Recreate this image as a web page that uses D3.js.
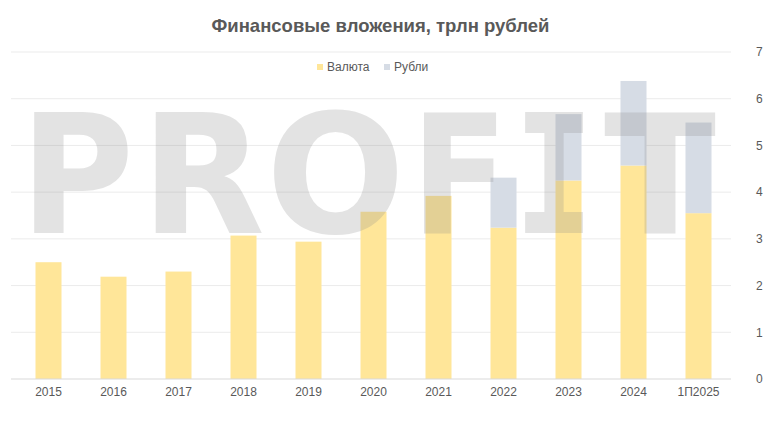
<!DOCTYPE html>
<html>
<head>
<meta charset="utf-8">
<script src="https://cdn.jsdelivr.net/npm/d3@7"></script>
<style>
  body { margin: 0; background: #fff; }
  text { font-family: "Liberation Sans", Arial, sans-serif; }
</style>
</head>
<body>
<div id="chart"></div>
<script>
// values, trillion rubles
const years = ['2015', '2016', '2017', '2018', '2019', '2020', '2021', '2022', '2023', '2024', '1П2025'];
const valuta = [2.50, 2.19, 2.30, 3.07, 2.94, 3.58, 3.92, 3.24, 4.25, 4.57, 3.55];
const rubli = [0, 0, 0, 0, 0, 0, 0, 1.07, 1.42, 1.81, 1.94];
const yTicks = [0, 1, 2, 3, 4, 5, 6, 7];
const seriesNames = ['Валюта', 'Рубли'];
const watermark = ['P', 'R', 'O', 'F', 'I', 'T'];

const width = 763, height = 421;
const margin = { top: 52, right: 32, bottom: 42, left: 16 };
const innerW = width - margin.left - margin.right;
const innerH = height - margin.top - margin.bottom;

const color = d3.scaleOrdinal()
  .domain(seriesNames)
  .range(['#ffe699', '#d6dce5']);

const rows = years.map(function(y, i) {
  return { year: y, 'Валюта': valuta[i], 'Рубли': rubli[i] };
});
const stacked = d3.stack().keys(seriesNames)(rows);

const xScale = d3.scaleBand()
  .domain(years)
  .range([0, innerW])
  .paddingInner(0.6)
  .paddingOuter(0.3);

const yScale = d3.scaleLinear()
  .domain([0, 7])
  .range([innerH, 0]);

const svg = d3.select('#chart')
  .append('svg')
  .attr('width', width)
  .attr('height', height);

svg.append('text')
  .attr('x', width / 2 - 1)
  .attr('y', 32)
  .attr('text-anchor', 'middle')
  .style('font-size', '18.5px')
  .style('font-weight', 'bold')
  .style('fill', '#595959')
  .text('Финансовые вложения, трлн рублей');

const g = svg.append('g')
  .attr('transform', 'translate(' + margin.left + ',' + margin.top + ')');

// gridlines
g.append('g')
  .selectAll('line')
  .data(yTicks.slice(1))
  .enter().append('line')
  .attr('x1', -5)
  .attr('x2', innerW)
  .attr('y1', function(d) { return yScale(d); })
  .attr('y2', function(d) { return yScale(d); })
  .style('stroke', '#ebebeb')
  .style('stroke-width', 1);

// bars
g.selectAll('.series')
  .data(stacked)
  .enter().append('g')
  .attr('class', 'series')
  .style('fill', function(d) { return color(d.key); })
  .selectAll('rect')
  .data(function(d) { return d; })
  .enter().append('rect')
  .attr('x', function(d) { return xScale(d.data.year); })
  .attr('width', xScale.bandwidth())
  .attr('y', function(d) { return yScale(d[1]); })
  .attr('height', function(d) { return yScale(d[0]) - yScale(d[1]); });

// x axis
const xAxis = g.append('g')
  .attr('transform', 'translate(0,' + innerH + ')')
  .call(d3.axisBottom(xScale).tickSize(0).tickPadding(8));
xAxis.select('.domain').remove();
xAxis.append('line')
  .attr('x1', -5)
  .attr('x2', innerW)
  .style('stroke', '#d9d9d9');
xAxis.selectAll('text')
  .style('font-size', '12px')
  .style('fill', '#595959');

// y axis on the right
const yAxis = g.append('g')
  .attr('transform', 'translate(' + (innerW + 22) + ',0)')
  .call(d3.axisRight(yScale).tickValues(yTicks).tickSize(0).tickFormat(d3.format('d')));
yAxis.select('.domain').remove();
yAxis.selectAll('text')
  .style('font-size', '12px')
  .style('fill', '#595959');

// legend
const legend = svg.append('g')
  .attr('transform', 'translate(317,67)');
const legendItem = legend.selectAll('g')
  .data(seriesNames)
  .enter().append('g')
  .attr('transform', function(d, i) { return 'translate(' + (i * 67) + ',0)'; });
legendItem.append('rect')
  .attr('x', 0)
  .attr('y', -3)
  .attr('width', 6)
  .attr('height', 6)
  .style('fill', color);
legendItem.append('text')
  .attr('x', 10)
  .attr('dy', '.35em')
  .style('font-size', '12px')
  .style('fill', '#595959')
  .text(function(d) { return d; });

// PROFIT watermark on top of everything, each letter fitted to its slot
const wmLeft = [20, 141, 266, 411, 514, 604];
const wmWidth = [114, 124, 139, 97, 80, 112];
svg.append('g')
  .selectAll('text')
  .data(watermark)
  .enter().append('text')
  .attr('x', function(d, i) { return wmLeft[i]; })
  .attr('y', 233)
  .attr('textLength', function(d, i) { return wmWidth[i]; })
  .attr('lengthAdjust', 'spacingAndGlyphs')
  .style('font-family', function(d) { return d === 'I' ? '"DejaVu Sans Mono", monospace' : '"DejaVu Sans", sans-serif'; })
  .style('font-size', '165px')
  .style('font-weight', 'bold')
  .style('fill', '#8c8c8c')
  .style('opacity', 0.24)
  .text(function(d) { return d; });
</script>
</body>
</html>
